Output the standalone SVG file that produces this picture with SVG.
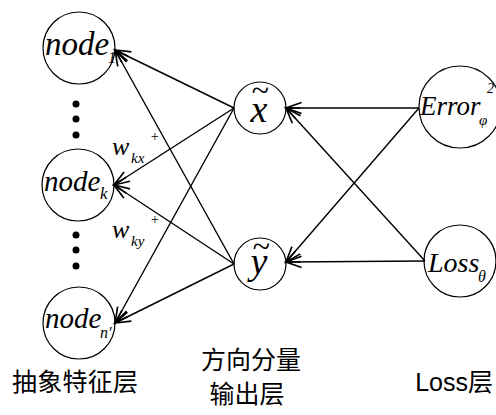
<svg xmlns="http://www.w3.org/2000/svg" width="496" height="415" viewBox="0 0 496 415">
<style>
.c{fill:none;stroke:#000;stroke-width:1.2}
.m{font-family:"Liberation Serif","Times New Roman","DejaVu Serif",serif;font-style:italic;fill:#000}
.cj{font-family:"Noto Sans CJK SC",sans-serif;font-size:25px;fill:#000}
.ln{stroke:#000;stroke-width:1.4;fill:none;marker-end:url(#ah)}
</style>
<defs>
<marker id="ah" markerUnits="userSpaceOnUse" markerWidth="20" markerHeight="20" viewBox="-16 -8 18 16" refX="0" refY="0" orient="auto">
<path d="M-14,-5 L0,0 L-14,5 M-13,0 L0,0" fill="none" stroke="#000" stroke-width="1.5"/>
</marker>
</defs>
<rect width="496" height="415" fill="#fff"/>
<g id="node1">
<circle class="c" cx="79" cy="48" r="36"/>
<text class="m" x="45" y="55" font-size="33">node</text>
<text class="m" x="108" y="63" font-size="16" font-style="normal">1</text>
</g>
<g id="dots1">
<circle cx="76" cy="104" r="3.5"/><circle cx="76" cy="119" r="3.5"/><circle cx="76" cy="135" r="3.5"/>
</g>
<g id="nodek">
<circle class="c" cx="78" cy="185" r="36"/>
<text class="m" x="44" y="191" font-size="29">node</text>
<text class="m" x="100" y="199" font-size="17">k</text>
</g>
<g id="dots2">
<circle cx="76" cy="235" r="3.5"/><circle cx="76" cy="250" r="3.5"/><circle cx="76" cy="266" r="3.5"/>
</g>
<g id="noden">
<circle class="c" cx="79" cy="323" r="36"/>
<text class="m" x="45" y="328" font-size="29">node</text>
<text class="m" x="100" y="338" font-size="16">n'</text>
</g>
<g id="xt">
<circle class="c" cx="260" cy="108" r="26"/>
<text class="m" x="260" y="101" font-size="32" text-anchor="middle" font-style="normal">~</text>
<text class="m" x="259" y="122" font-size="38" text-anchor="middle">x</text>
</g>
<g id="yt">
<circle class="c" cx="260" cy="264" r="26"/>
<text class="m" x="261" y="257" font-size="32" text-anchor="middle" font-style="normal">~</text>
<text class="m" x="259" y="274" font-size="38" text-anchor="middle">y</text>
</g>
<g id="error">
<circle class="c" cx="460" cy="107" r="41"/>
<text class="m" x="420" y="115" font-size="27">Error</text>
<text class="m" x="479" y="125" font-size="15">φ</text>
<text class="m" x="487" y="93" font-size="14" font-style="normal">2</text>
</g>
<g id="loss">
<circle class="c" cx="460" cy="261" r="36"/>
<text class="m" x="428" y="272" font-size="28">Loss</text>
<text class="m" x="478" y="282" font-size="16">θ</text>
</g>
<g id="connectors">
<line class="ln" x1="234" y1="108" x2="115" y2="50"/>
<line class="ln" x1="234" y1="108" x2="114" y2="185"/>
<line class="ln" x1="234" y1="108" x2="115" y2="323"/>
<line class="ln" x1="234" y1="264" x2="115" y2="50"/>
<line class="ln" x1="234" y1="264" x2="114" y2="185"/>
<line class="ln" x1="234" y1="264" x2="115" y2="323"/>
<line class="ln" x1="419" y1="108" x2="286" y2="108"/>
<line class="ln" x1="419" y1="108" x2="286" y2="262"/>
<line class="ln" x1="425" y1="261" x2="286" y2="108"/>
<line class="ln" x1="425" y1="261" x2="286" y2="262"/>
</g>
<g id="labels">
<text class="m" x="112" y="155" font-size="26">w</text>
<text class="m" x="131" y="163" font-size="15">kx</text>
<text class="m" x="150" y="141" font-size="14" font-style="normal">+</text>
<text class="m" x="112" y="238" font-size="26">w</text>
<text class="m" x="131" y="246" font-size="15">ky</text>
<text class="m" x="150" y="224" font-size="14" font-style="normal">+</text>
<text class="cj" x="12" y="391" textLength="126" lengthAdjust="spacing">抽象特征层</text>
<text class="cj" x="251" y="369" text-anchor="middle">方向分量</text>
<text class="cj" x="247" y="403" text-anchor="middle">输出层</text>
<text class="cj" x="493" y="391" font-size="22" text-anchor="end"><tspan font-family="Liberation Sans, sans-serif">Loss</tspan>层</text>
</g>
</svg>
